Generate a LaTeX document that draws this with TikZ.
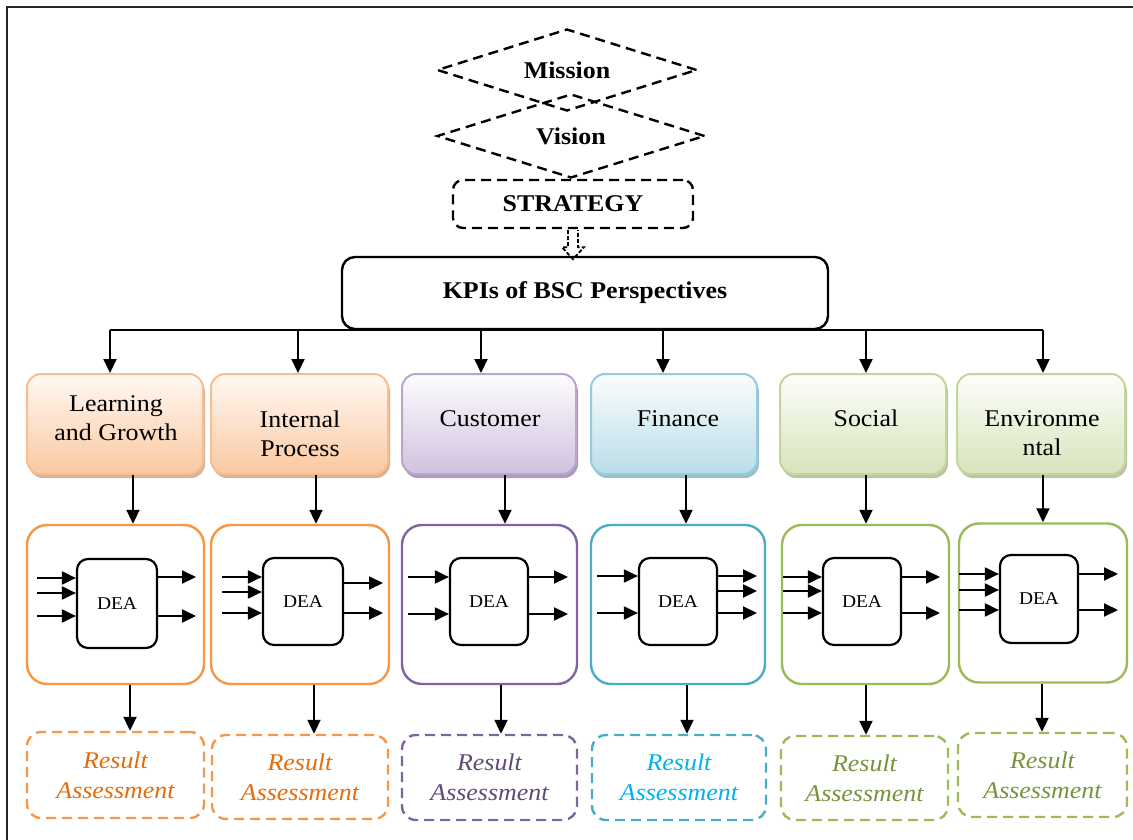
\documentclass[tikz,border=0pt]{standalone}
\usepackage{fontspec}
\setmainfont{Liberation Serif}[FakeStretch=1.08]
\usetikzlibrary{shapes.geometric,arrows.meta,shadows,calc}
\definecolor{oBor}{HTML}{F9BE8F}\definecolor{oTop}{HTML}{FFF9F4}\definecolor{oBot}{HTML}{FBC8A0}\definecolor{oSh}{HTML}{C99A78}
\definecolor{pBor}{HTML}{B9A6CE}\definecolor{pTop}{HTML}{FDFCFE}\definecolor{pBot}{HTML}{D0C2DF}\definecolor{pSh}{HTML}{8E7BA5}
\definecolor{bBor}{HTML}{92CDDC}\definecolor{bTop}{HTML}{FBFDFE}\definecolor{bBot}{HTML}{B9DDE8}\definecolor{bSh}{HTML}{7FA9B5}
\definecolor{gBor}{HTML}{C3D69B}\definecolor{gTop}{HTML}{FDFEFA}\definecolor{gBot}{HTML}{D7E4BC}\definecolor{gSh}{HTML}{A3B386}
\definecolor{oLine}{HTML}{F79646}\definecolor{pLine}{HTML}{8064A2}\definecolor{bLine}{HTML}{4BACC6}\definecolor{gLine}{HTML}{9BBB59}
\definecolor{oTxt}{HTML}{E46C0A}\definecolor{pTxt}{HTML}{604A7B}\definecolor{bTxt}{HTML}{00B0F0}\definecolor{gTxt}{HTML}{77933C}
\begin{document}
\begin{tikzpicture}[x=1pt,y=-1pt,
  arr/.style={line width=2pt,-{Triangle[length=14pt,width=13pt]}},
  dashline/.style={line width=2.4pt,dash pattern=on 10pt off 6pt},
  dia/.style={draw,diamond,aspect=3.2,dashline,inner sep=0pt,font=\bfseries\fontsize{24}{26}\selectfont},
  persp/.style={draw=#1Bor,line width=2pt,rounded corners=14pt,top color=#1Top,bottom color=#1Bot,
     drop shadow={shadow xshift=2pt,shadow yshift=-4pt,fill=#1Sh,opacity=0.75},minimum height=100pt},
  ptext/.style={align=center,font=\fontsize{24}{29}\selectfont,inner sep=0pt},
  cont/.style={draw=#1Line,line width=2.4pt,rounded corners=20pt,minimum height=159pt},
  dea/.style={draw=black,line width=2.2pt,rounded corners=11pt,minimum width=80pt,minimum height=88pt,font=\fontsize{18}{20}\selectfont},
  res/.style={draw=#1Line,dashline,rounded corners=14pt,minimum height=85pt,align=center,text=#1Txt,font=\itshape\fontsize{24}{30}\selectfont}
]
\useasboundingbox (0,0) rectangle (1133,840);
\draw[line width=2.4pt,black!85] (7,840) -- (7,7) -- (1133,7);

% top
\node[dia,minimum width=260pt,minimum height=82pt] (mis) at (567,70) {Mission};
\node[dia,minimum width=268pt,minimum height=84pt] (vis) at (571,136) {Vision};
\node[draw,dashline,rounded corners=10pt,minimum width=240pt,minimum height=48pt,font=\bfseries\fontsize{24}{26}\selectfont] (st) at (573,204) {STRATEGY};
\node[draw,line width=2.4pt,rounded corners=13pt,minimum width=486pt,minimum height=72pt,font=\bfseries\fontsize{24}{26}\selectfont] (kpi) at (585,293) {KPIs of BSC Perspectives};
\draw[line width=1.8pt,dash pattern=on 4pt off 2pt] ($(st.south)+(-5,1)$) -- ++(0,17) -- ++(-6,0) -- ++(11,12) -- ++(11,-12) -- ++(-6,0) -- ++(0,-17);

% bus
\coordinate (bL) at (110,330);
\coordinate (bR) at (1043,330);
\draw[line width=2pt] (bL) -- (bR);

% perspectives
\node[persp=o,minimum width=176pt] (p1) at (115,424) {};
\node[persp=o,minimum width=177pt] (p2) at (299.5,424) {};
\node[persp=p,minimum width=174pt] (p3) at (489,424) {};
\node[persp=b,minimum width=166pt] (p4) at (674,424) {};
\node[persp=g,minimum width=166pt] (p5) at (863,424) {};
\node[persp=g,minimum width=168pt] (p6) at (1041,424) {};
\node[ptext] (t1) at (116,418) {Learning\\and Growth};
\node[ptext] (t2) at (300,434) {Internal\\Process};
\node[ptext] (t3) at (490,419) {Customer};
\node[ptext] (t4) at (678,419) {Finance};
\node[ptext] (t5) at (866,418) {Social};
\node[ptext] (t6) at (1042,433) {Environme\\ntal};

\foreach \xx/\pp in {110/p1,298/p2,481/p3,663/p4,866/p5,1043/p6}
  \draw[arr] (\xx,330) -- (\xx,330 |- \pp.north);

% containers
\node[cont=o,minimum width=177pt] (d1) at (115.5,604.5) {};
\node[cont=o,minimum width=178pt] (d2) at (300,604.5) {};
\node[cont=p,minimum width=175pt] (d3) at (489.5,604.5) {};
\node[cont=b,minimum width=174pt] (d4) at (678,604.5) {};
\node[cont=g,minimum width=167pt] (d5) at (865.5,604.5) {};
\node[cont=g,minimum width=168pt] (d6) at (1043,603) {};

\foreach \xx/\pp/\dd in {133/p1/d1,316/p2/d2,505/p3/d3,686/p4/d4,866/p5/d5,1043/p6/d6}
  \draw[arr] (\xx,0 |- \pp.south) -- (\xx,0 |- \dd.north);

% DEA boxes
\node[dea,minimum height=89pt] (e1) at (117,603.5) {DEA};
\node[dea,minimum height=87pt] (e2) at (303,601.5) {DEA};
\node[dea,minimum width=78pt,minimum height=87pt] (e3) at (489,601.5) {DEA};
\node[dea,minimum width=78pt,minimum height=87pt] (e4) at (678,601.5) {DEA};
\node[dea,minimum width=78pt,minimum height=87pt] (e5) at (862,601.5) {DEA};
\node[dea,minimum width=78pt,minimum height=88pt] (e6) at (1039,599) {DEA};

\foreach \yy in {578,593,616} \draw[arr] (37,\yy) -- (e1.west |- 0,\yy);
\foreach \yy in {577,616} \draw[arr] (e1.east |- 0,\yy) -- (196,\yy);
\foreach \yy in {577,592,613} \draw[arr] (222,\yy) -- (e2.west |- 0,\yy);
\foreach \yy in {583,613} \draw[arr] (e2.east |- 0,\yy) -- (383,\yy);
\foreach \yy in {577,614} \draw[arr] (408,\yy) -- (e3.west |- 0,\yy);
\foreach \yy in {577,614} \draw[arr] (e3.east |- 0,\yy) -- (568,\yy);
\foreach \yy in {576,613} \draw[arr] (597,\yy) -- (e4.west |- 0,\yy);
\foreach \yy in {576,591,613} \draw[arr] (e4.east |- 0,\yy) -- (757,\yy);
\foreach \yy in {577,591,613} \draw[arr] (783,\yy) -- (e5.west |- 0,\yy);
\foreach \yy in {577,613} \draw[arr] (e5.east |- 0,\yy) -- (940,\yy);
\foreach \yy in {574,590,610} \draw[arr] (959,\yy) -- (e6.west |- 0,\yy);
\foreach \yy in {574,610} \draw[arr] (e6.east |- 0,\yy) -- (1118,\yy);

% results
\node[res=o,minimum width=177pt,minimum height=86pt] (r1) at (115.5,775) {Result\\Assessment};
\node[res=o,minimum width=176pt,minimum height=84pt] (r2) at (300,777) {Result\\Assessment};
\node[res=p,minimum width=175pt] (r3) at (489.5,777.5) {Result\\Assessment};
\node[res=b,minimum width=174pt] (r4) at (679,777.5) {Result\\Assessment};
\node[res=g,minimum width=167pt,minimum height=84pt] (r5) at (864.5,778) {Result\\Assessment};
\node[res=g,minimum width=169pt,minimum height=84pt] (r6) at (1042.5,775) {Result\\Assessment};

\foreach \xx/\dd/\rr in {130/d1/r1,314/d2/r2,501/d3/r3,687/d4/r4,866/d5/r5,1042/d6/r6}
  \draw[arr] (\xx,0 |- \dd.south) -- (\xx,0 |- \rr.north);
\end{tikzpicture}
\end{document}
